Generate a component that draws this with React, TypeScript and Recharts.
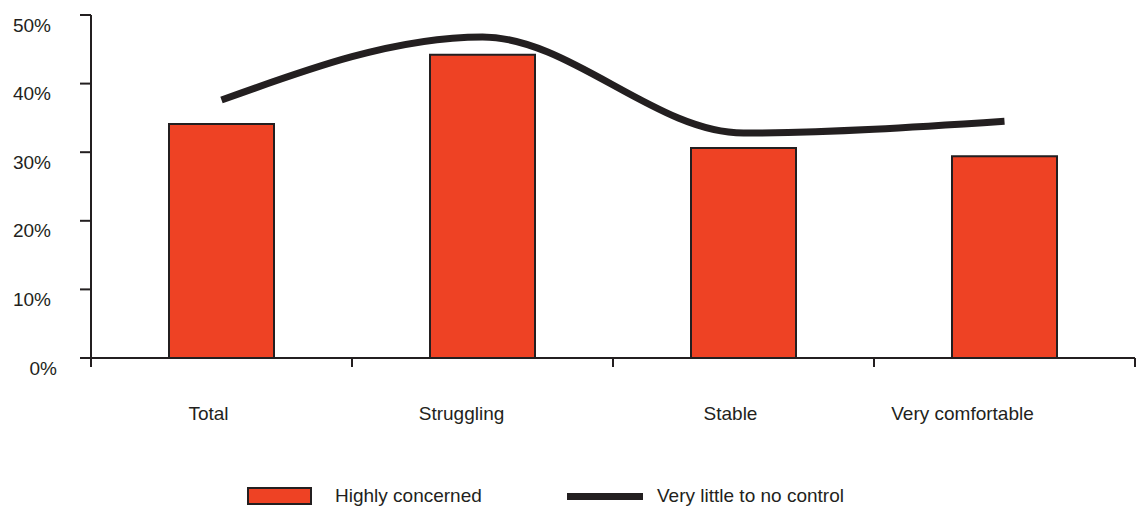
import React from 'react';
import { ComposedChart, Bar, Line, XAxis, YAxis } from 'recharts';

const categories = ['Total', 'Struggling', 'Stable', 'Very comfortable'];
const highlyConcerned = [34.1, 44.2, 30.6, 29.4];
const littleControl = [37.6, 46.8, 32.8, 34.5];
const yTicks = [0, 10, 20, 30, 40, 50];

const RED = '#EE4224';
const INK = '#231F20';
const FONT = '"Liberation Sans", Arial, sans-serif';

// the source sets its category labels a little left of the band centres
const LABEL_NUDGE = [-13, -21, -13, -42];

const data = categories.map((name, i) => ({
  name,
  concerned: highlyConcerned[i],
  control: littleControl[i],
}));

const YTick = (props: any) => {
  const { x, y, payload } = props;
  const isZero = payload.value === 0;
  return (
    <text
      x={x + (isZero ? 6 : 0)}
      y={y + 10}
      dy="0.35em"
      textAnchor="end"
      fill={INK}
      fontSize={19}
      fontFamily={FONT}
    >
      {payload.value}%
    </text>
  );
};

const XTick = (props: any) => {
  const { x, y, payload, index, visibleTicksCount } = props;
  const half = payload.offset || 130.5;
  const last = index === visibleTicksCount - 1;
  return (
    <g>
      <line x1={x - half} x2={x - half} y1={y} y2={y + 9} stroke={INK} strokeWidth={2} />
      {last && <line x1={x + half} x2={x + half} y1={y} y2={y + 9} stroke={INK} strokeWidth={2} />}
      <text
        x={x + (LABEL_NUDGE[index] || 0)}
        y={y + 55}
        dy="0.35em"
        textAnchor="middle"
        fill={INK}
        fontSize={19}
        fontFamily={FONT}
      >
        {payload.value}
      </text>
    </g>
  );
};

export default function App() {
  return (
    <div style={{ position: 'fixed', left: 0, top: 0, width: 1138, height: 510, background: '#fff' }}>
      <ComposedChart
        width={1138}
        height={510}
        data={data}
        margin={{ top: 15, right: 3, left: 0, bottom: 92 }}
      >
        <XAxis
          dataKey="name"
          height={60}
          axisLine={{ stroke: INK, strokeWidth: 2 }}
          tickLine={false}
          tickSize={0}
          tickMargin={0}
          tick={<XTick />}
          interval={0}
        />
        <YAxis
          width={91}
          domain={[0, 50]}
          ticks={yTicks}
          axisLine={{ stroke: INK, strokeWidth: 2 }}
          tickLine={{ stroke: INK, strokeWidth: 2 }}
          tickSize={11}
          tickMargin={29}
          tick={<YTick />}
        />
        <Bar dataKey="concerned" fill={RED} stroke={INK} strokeWidth={2} barSize={105} isAnimationActive={false} />
        <Line
          type="monotone"
          dataKey="control"
          stroke={INK}
          strokeWidth={7}
          dot={false}
          activeDot={false}
          isAnimationActive={false}
        />
      </ComposedChart>
      <div
        style={{
          position: 'absolute',
          left: 0,
          top: 486,
          width: 1138,
          height: 22,
          fontFamily: FONT,
          fontSize: 19,
          color: INK,
        }}
      >
        <div style={{ position: 'absolute', left: 247, top: 1, width: 61, height: 14, background: RED, border: `2px solid ${INK}` }} />
        <span style={{ position: 'absolute', left: 335, top: -1, lineHeight: '22px' }}>Highly concerned</span>
        <div style={{ position: 'absolute', left: 567, top: 7, width: 76, height: 7, background: INK }} />
        <span style={{ position: 'absolute', left: 657, top: -1, lineHeight: '22px' }}>Very little to no control</span>
      </div>
    </div>
  );
}
